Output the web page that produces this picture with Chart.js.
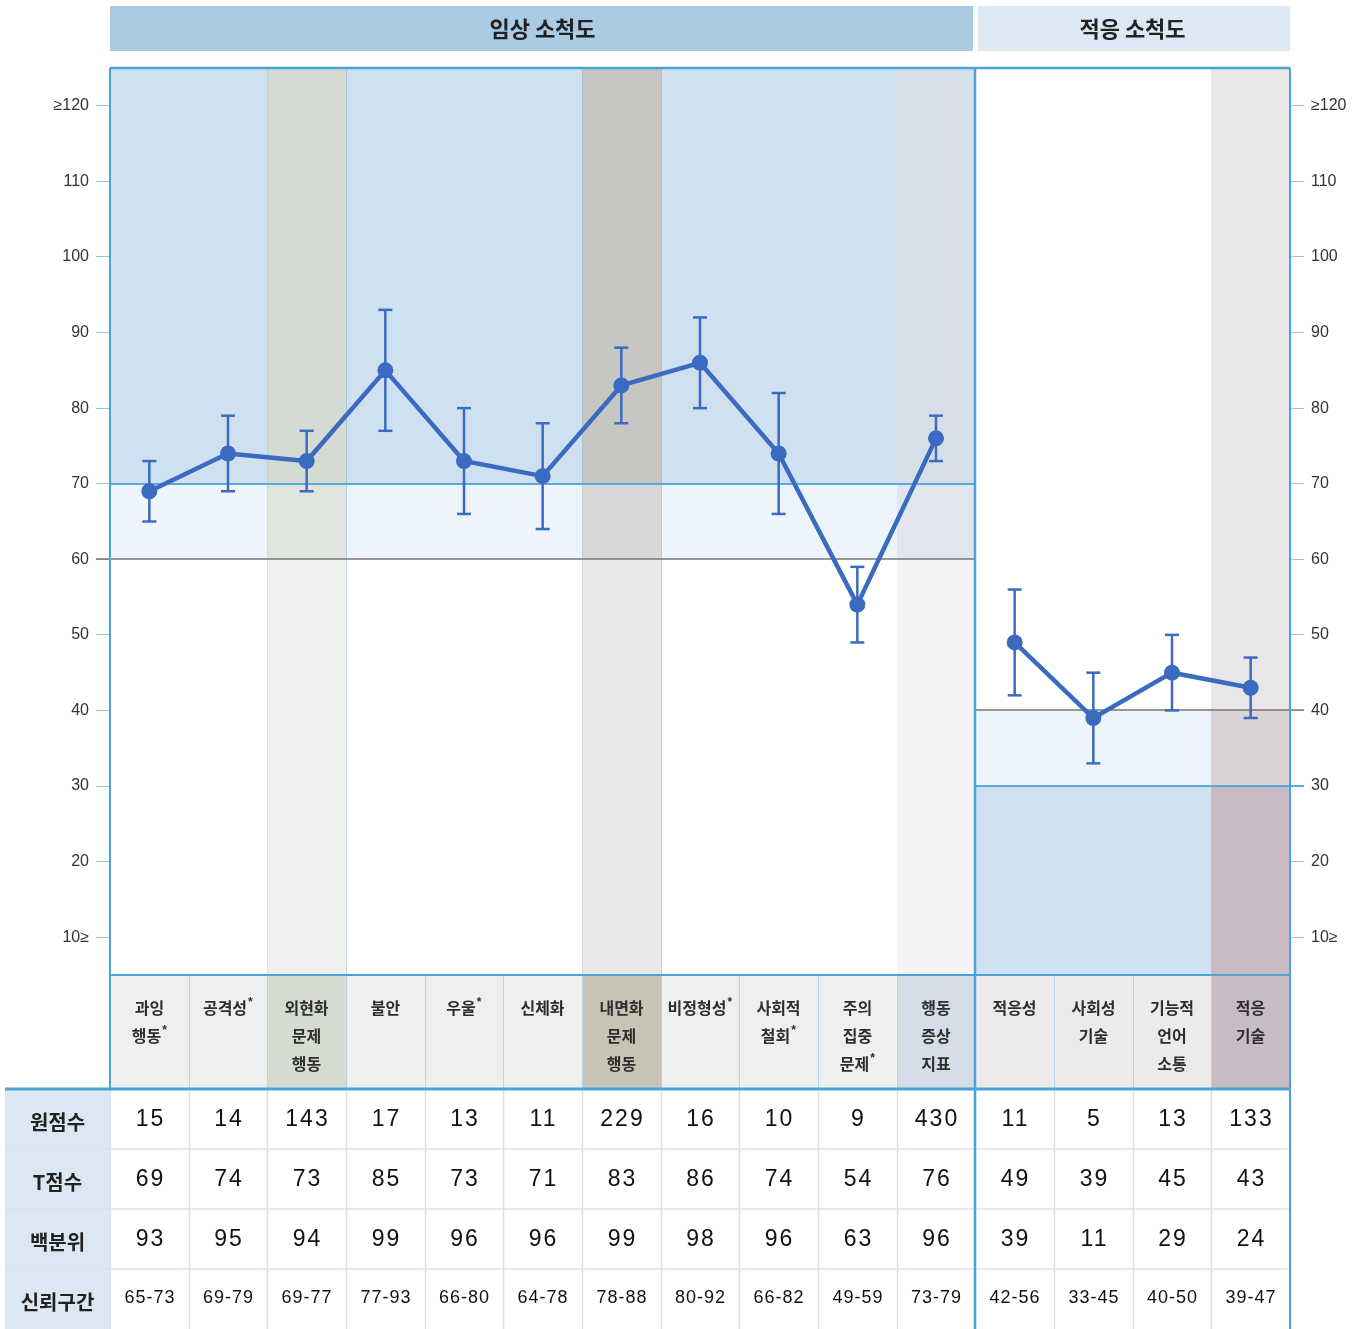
<!DOCTYPE html>
<html lang="ko">
<head>
<meta charset="utf-8">
<title>임상 소척도 · 적응 소척도 프로파일</title>
<script src="https://cdn.jsdelivr.net/npm/chart.js@4.4.1/dist/chart.umd.min.js"></script>
<style>
  html, body { margin: 0; padding: 0; background: #fff; }
  canvas { display: block; }
</style>
</head>
<body>
<canvas id="profileChart" width="1372" height="1329"></canvas>
<script>
// scale names (one entry per line in the label row)
const scaleNames = [
  ["과잉", "행동*"], ["공격성*"], ["외현화", "문제", "행동"], ["불안"], ["우울*"], ["신체화"],
  ["내면화", "문제", "행동"], ["비정형성*"], ["사회적", "철회*"], ["주의", "집중", "문제*"],
  ["행동", "증상", "지표"], ["적응성"], ["사회성", "기술"], ["기능적", "언어", "소통"], ["적응", "기술"]
];
const groupTitles = ["임상 소척도", "적응 소척도"];
const clinicalCount = 11;

const rawScores = [15, 14, 143, 17, 13, 11, 229, 16, 10, 9, 430, 11, 5, 13, 133];
const tScores = [69, 74, 73, 85, 73, 71, 83, 86, 74, 54, 76, 49, 39, 45, 43];
const percentiles = [93, 95, 94, 99, 96, 96, 99, 98, 96, 63, 96, 39, 11, 29, 24];
const ciLow = [65, 69, 69, 77, 66, 64, 78, 80, 66, 49, 73, 42, 33, 40, 39];
const ciHigh = [73, 79, 77, 93, 80, 78, 88, 92, 82, 59, 79, 56, 45, 50, 47];

const rowTitles = ["원점수", "T점수", "백분위", "신뢰구간"];
const yTickValues = [10, 20, 30, 40, 50, 60, 70, 80, 90, 100, 110, 120];
const yTickLabels = ["10≥", "20", "30", "40", "50", "60", "70", "80", "90", "100", "110", "≥120"];

// cut-offs: clinical shaded above 70 / 60, adaptive shaded below 30 / 40
const clinicalCuts = [60, 70];
const adaptiveCuts = [30, 40];

// colours
const LINE_BLUE = "#3a6bc0";
const FRAME_BLUE = "#4ba3d6";
const zoneFill = { hi: "#cfe1f0", mid: "#edf4fb", lo: "#ffffff" };
const specialFill = {
  2: { hi: "#d4dbd3", mid: "#e0e5df", lo: "#eef0ed", cell: "#d5dbd0" },
  6: { hi: "#c6c7c3", mid: "#d8d9d7", lo: "#e9eae8", cell: "#c7c3b5" },
  10: { hi: "#d6dfe8", mid: "#e1e6ee", lo: "#f3f4f6", cell: "#d5dde8" },
  14: { hi: "#c8bbc3", mid: "#dbd4d7", lo: "#e9e6e7", cell: "#c7bcc4" }
};
const KR_FONT = '"Noto Sans CJK KR", "Noto Sans", sans-serif';
const NUM_FONT = '"Liberation Sans", Arial, sans-serif';

Chart.defaults.font.family = NUM_FONT;

const clinicalPoints = tScores.slice(0, clinicalCount).map((v, i) => ({ x: i, y: v }));
const adaptivePoints = tScores.slice(clinicalCount).map((v, i) => ({ x: i + clinicalCount, y: v }));

function tickLabel(value) {
  const idx = yTickValues.indexOf(value);
  return idx >= 0 ? yTickLabels[idx] : "";
}

function fixTicks(scale) {
  scale.ticks = yTickValues.map((v) => ({ value: v }));
}

function colEdges(xs, i) {
  return [Math.round(xs.getPixelForValue(i - 0.5)), Math.round(xs.getPixelForValue(i + 0.5))];
}

function line(ctx, x1, y1, x2, y2, color, width) {
  ctx.beginPath();
  ctx.strokeStyle = color;
  ctx.lineWidth = width;
  ctx.moveTo(x1, y1);
  ctx.lineTo(x2, y2);
  ctx.stroke();
}

function drawLabelLine(ctx, text, cx, cy) {
  ctx.font = "bold 16px " + KR_FONT;
  if (text.endsWith("*")) {
    const main = text.slice(0, -1);
    const w = ctx.measureText(main).width;
    ctx.textAlign = "left";
    ctx.fillText(main, cx - w / 2 - 3, cy);
    ctx.font = "bold 12px " + NUM_FONT;
    ctx.fillText("*", cx + w / 2 - 2, cy - 5);
    ctx.textAlign = "center";
  } else {
    ctx.fillText(text, cx, cy);
  }
}

const backgroundPlugin = {
  id: "profileBackground",
  beforeDraw(chart) {
    const { ctx, chartArea } = chart;
    const xs = chart.scales.x;
    const ys = chart.scales.y;
    const { top, bottom } = chartArea;
    const n = tScores.length;
    const divider = Math.round(xs.getPixelForValue(clinicalCount - 0.5));
    ctx.save();

    // group headers
    const headerTop = 6, headerH = 45;
    ctx.fillStyle = "#a9cbe3";
    ctx.fillRect(chartArea.left, headerTop, divider - chartArea.left - 2, headerH);
    ctx.fillStyle = "#dce8f3";
    ctx.fillRect(divider + 3, headerTop, chartArea.right - divider - 3, headerH);
    ctx.fillStyle = "#222";
    ctx.font = "bold 22px " + KR_FONT;
    ctx.textAlign = "center";
    ctx.textBaseline = "middle";
    ctx.fillText(groupTitles[0], (chartArea.left + divider) / 2, headerTop + headerH / 2);
    ctx.fillText(groupTitles[1], (divider + chartArea.right) / 2, headerTop + headerH / 2);

    // shaded zones per column
    for (let i = 0; i < n; i++) {
      const [x0, x1] = colEdges(xs, i);
      const fills = specialFill[i] || zoneFill;
      const clinical = i < clinicalCount;
      const cuts = clinical ? clinicalCuts : adaptiveCuts;
      const yLowCut = Math.round(ys.getPixelForValue(cuts[0]));
      const yHighCut = Math.round(ys.getPixelForValue(cuts[1]));
      const upper = clinical ? fills.hi : fills.lo;
      const lower = clinical ? fills.lo : fills.hi;
      ctx.fillStyle = upper;
      ctx.fillRect(x0, top, x1 - x0, yHighCut - top);
      ctx.fillStyle = fills.mid;
      ctx.fillRect(x0, yHighCut, x1 - x0, yLowCut - yHighCut);
      ctx.fillStyle = lower;
      ctx.fillRect(x0, yLowCut, x1 - x0, bottom - yLowCut);
    }

    // faint separators next to the summary columns
    [2, 6].forEach((i) => {
      const [x0, x1] = colEdges(xs, i);
      line(ctx, x1 + 0.5, top, x1 + 0.5, bottom, "rgba(120,160,190,0.45)", 1);
      line(ctx, x0 + 0.5, top, x0 + 0.5, bottom, "rgba(120,160,190,0.18)", 1);
    });

    // label row
    const labelTop = bottom;
    const tableTop = 1089;
    for (let i = 0; i < n; i++) {
      const [x0, x1] = colEdges(xs, i);
      const special = specialFill[i];
      ctx.fillStyle = special ? special.cell : (i < clinicalCount ? "#eef0ef" : "#edeaeb");
      ctx.fillRect(x0, labelTop, x1 - x0, tableTop - labelTop);
      line(ctx, x0 + 0.5, labelTop, x0 + 0.5, tableTop, "#b8d3e6", 1);
      ctx.fillStyle = "#2e2e2e";
      ctx.textAlign = "center";
      ctx.textBaseline = "middle";
      scaleNames[i].forEach((txt, k) => {
        drawLabelLine(ctx, txt, (x0 + x1) / 2, 1008 + k * 28);
      });
    }

    // table
    const rowH = 60;
    const tableLeft = 5;
    const tableBottom = tableTop + rowH * rowTitles.length;
    ctx.fillStyle = "#dbe8f3";
    ctx.fillRect(tableLeft, tableTop, chartArea.left - tableLeft, tableBottom - tableTop);
    const rows = [rawScores, tScores, percentiles, ciLow.map((v, i) => v + "-" + ciHigh[i])];
    rows.forEach((vals, r) => {
      const y0 = tableTop + r * rowH;
      if (r > 0) line(ctx, tableLeft, y0, chartArea.right, y0, "#dbe2e8", 1.5);
      ctx.fillStyle = "#222";
      ctx.letterSpacing = "0px";
      ctx.font = "bold 20px " + KR_FONT;
      ctx.fillText(rowTitles[r], (tableLeft + chartArea.left) / 2, y0 + rowH / 2 + 3);
      ctx.fillStyle = "#111";
      const spacing = r === 3 ? 1 : 2;
      ctx.letterSpacing = spacing + "px";
      ctx.font = (r === 3 ? "18px " : "23px ") + NUM_FONT;
      vals.forEach((v, i) => {
        const [x0, x1] = colEdges(xs, i);
        ctx.fillText(String(v), (x0 + x1) / 2 + spacing / 2, y0 + rowH / 2 + (r === 3 ? -1 : 1));
      });
      ctx.letterSpacing = "0px";
    });
    for (let i = 0; i <= n; i++) {
      const x = Math.round(xs.getPixelForValue(i - 0.5)) + 0.5;
      line(ctx, x, tableTop, x, tableBottom, "#d7e2ea", 1.5);
    }
    ctx.restore();
  },
  beforeDatasetsDraw(chart) {
    const { ctx, chartArea } = chart;
    const xs = chart.scales.x;
    const ys = chart.scales.y;
    const { left, right, top, bottom } = chartArea;
    const divider = Math.round(xs.getPixelForValue(clinicalCount - 0.5));
    const tableTop = 1089;
    ctx.save();

    // cut-off lines
    const c70 = Math.round(ys.getPixelForValue(clinicalCuts[1]));
    const c60 = Math.round(ys.getPixelForValue(clinicalCuts[0]));
    const a40 = Math.round(ys.getPixelForValue(adaptiveCuts[1]));
    const a30 = Math.round(ys.getPixelForValue(adaptiveCuts[0]));
    line(ctx, left, c70, divider, c70, "#5aaadb", 2);
    line(ctx, left - 14, c60, divider, c60, "#777", 1.5);
    line(ctx, divider, a40, right + 14, a40, "#777", 1.5);
    line(ctx, divider, a30, right + 14, a30, "#5aaadb", 2);

    // frame
    line(ctx, left, top, right, top, FRAME_BLUE, 2.5);
    line(ctx, left, bottom, right, bottom, FRAME_BLUE, 2);
    line(ctx, left, top, left, tableTop, FRAME_BLUE, 2);
    line(ctx, right, top, right, chart.height, FRAME_BLUE, 2);
    line(ctx, divider, top, divider, chart.height, FRAME_BLUE, 2.5);
    line(ctx, 5, tableTop, right, tableTop, FRAME_BLUE, 3);

    // confidence interval bars
    tScores.forEach((v, i) => {
      const x = xs.getPixelForValue(i);
      const yH = ys.getPixelForValue(ciHigh[i]);
      const yL = ys.getPixelForValue(ciLow[i]);
      line(ctx, x, yH, x, yL, LINE_BLUE, 2.5);
      line(ctx, x - 7, yH, x + 7, yH, LINE_BLUE, 2.5);
      line(ctx, x - 7, yL, x + 7, yL, LINE_BLUE, 2.5);
    });
    ctx.restore();
  }
};

const seriesStyle = {
  borderColor: LINE_BLUE,
  backgroundColor: LINE_BLUE,
  borderWidth: 4.5,
  pointRadius: 8,
  pointBorderWidth: 0,
  pointBackgroundColor: LINE_BLUE,
  tension: 0,
  fill: false
};

const axisTicks = {
  color: "#333",
  font: { size: 16 },
  padding: 7,
  callback: (v) => tickLabel(v)
};

new Chart(document.getElementById("profileChart"), {
  type: "line",
  data: {
    datasets: [
      { label: groupTitles[0], data: clinicalPoints, ...seriesStyle },
      { label: groupTitles[1], data: adaptivePoints, ...seriesStyle }
    ]
  },
  options: {
    responsive: false,
    animation: false,
    layout: { padding: { top: 68, bottom: 354, left: 0, right: 0 } },
    plugins: { legend: { display: false }, tooltip: { enabled: false } },
    scales: {
      x: { type: "linear", min: -0.5, max: 14.5, display: false },
      y: {
        position: "left",
        min: 5,
        max: 125,
        afterFit: (s) => { s.width = 110; },
        afterBuildTicks: fixTicks,
        ticks: axisTicks,
        grid: { drawOnChartArea: false, tickLength: 14, color: "#9cc5e3" },
        border: { display: false }
      },
      y2: {
        position: "right",
        min: 5,
        max: 125,
        afterFit: (s) => { s.width = 82; },
        afterBuildTicks: fixTicks,
        ticks: axisTicks,
        grid: { drawOnChartArea: false, tickLength: 14, color: "#9cc5e3" },
        border: { display: false }
      }
    }
  },
  plugins: [backgroundPlugin]
});
</script>
</body>
</html>
